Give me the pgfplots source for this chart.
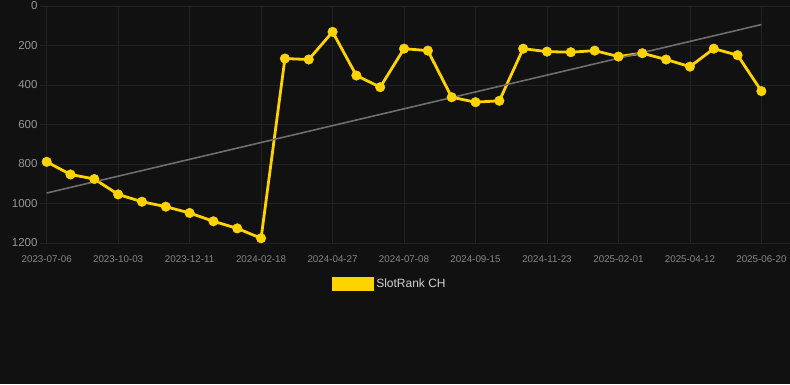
\documentclass[border=0pt]{standalone}
\usepackage{fontspec}
\setmainfont{Liberation Sans}
\usepackage{pgfplots}
\pgfplotsset{compat=1.18}
\definecolor{bg}{RGB}{17,17,17}
\definecolor{gridc}{RGB}{34,34,34}
\definecolor{ticky}{RGB}{150,150,150}
\definecolor{tickx}{RGB}{135,135,135}
\definecolor{gold}{RGB}{255,211,0}
\definecolor{trend}{RGB}{110,110,110}
\definecolor{legtext}{RGB}{210,210,210}
\begin{document}
\begin{tikzpicture}[x=1pt,y=1pt]
\fill[bg] (0,0) rectangle (790,384);
\useasboundingbox (0,0) rectangle (790,384);
\begin{axis}[
  at={(40pt,141pt)}, anchor=south west,
  scale only axis, width=750pt, height=237pt,
  xmin=-0.28, xmax=31.2,
  ymin=0, ymax=1200, y dir=reverse,
  axis line style={draw=none},
  tick style={draw=none},
  grid=major, grid style={gridc, line width=0.7pt},
  xtick={0,3,...,30},
  xticklabels={2023-07-06,2023-10-03,2023-12-11,2024-02-18,2024-04-27,2024-07-08,2024-09-15,2024-11-23,2025-02-01,2025-04-12,2025-06-20},
  ytick={0,200,...,1200},
  /pgf/number format/assume math mode=true,
  /pgf/number format/1000 sep={},
  xticklabel style={font=\fontsize{9.8}{10}\selectfont, text=tickx, yshift=-9pt},
  yticklabel style={font=\fontsize{11.5}{12}\selectfont, text=ticky, xshift=1pt},
  clip=false,
  legend style={at={(0.4667,-0.173)}, anchor=center, draw=none, fill=none,
    text=legtext, font=\fontsize{12}{13}\selectfont},
  legend cell align=left,
]
\addplot[gold, line width=2.8pt, mark=*, mark size=4.8pt, mark options={fill=gold, draw=gold, line width=0.4pt},
  legend image code/.code={\fill[gold] (0pt,-6pt) rectangle (39pt,6pt);}]
coordinates {
(0,789) (1,853) (2,876) (3,954) (4,991) (5,1016) (6,1048) (7,1090) (8,1126) (9,1176)
(10,266) (11,271) (12,131) (13,352) (14,411) (15,216) (16,226) (17,462) (18,487) (19,480)
(20,216) (21,231) (22,234) (23,226) (24,256) (25,239) (26,271) (27,307) (28,216) (29,249) (30,431)
};
\addlegendentry{SlotRank CH}
\addplot[trend, line width=1.6pt, forget plot] coordinates {(0,947) (30,94)};
\end{axis}
\end{tikzpicture}
\end{document}
